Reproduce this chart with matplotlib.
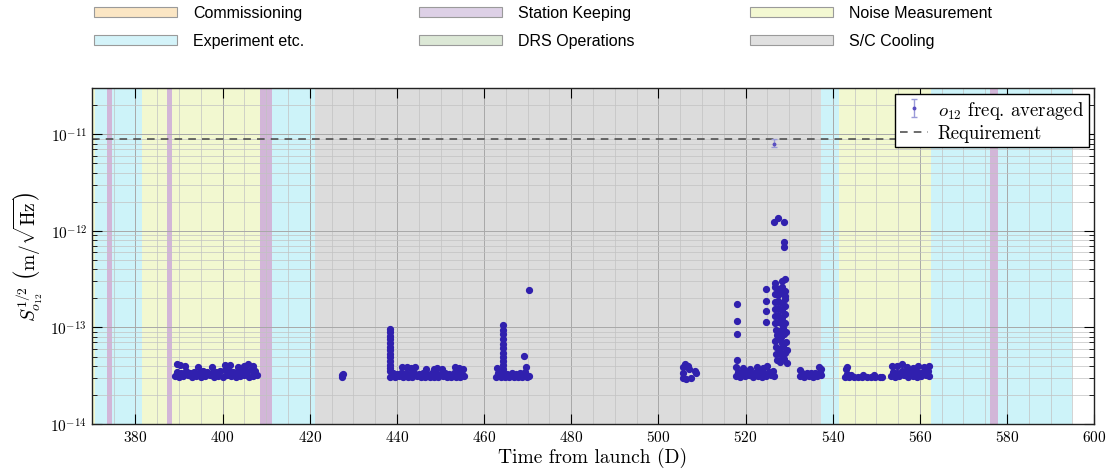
import numpy as np
import matplotlib
matplotlib.use("Agg")
import matplotlib.pyplot as plt
from matplotlib.patches import Patch
from matplotlib.ticker import MultipleLocator, LogLocator, NullFormatter

plt.rcParams['mathtext.fontset'] = 'cm'
plt.rcParams['font.family'] = 'serif'
plt.rcParams['font.serif'] = ['cmr10']
plt.rcParams['axes.formatter.use_mathtext'] = True
plt.rcParams['axes.unicode_minus'] = False

# mission phases (legend order is column-wise)
phase_names = ['Commissioning', 'Experiment etc.', 'Station Keeping',
               'DRS Operations', 'Noise Measurement', 'S/C Cooling']
phase_colors = {'Commissioning': '#fbe6c4', 'Experiment etc.': '#cdf3f9',
                'Station Keeping': '#d2b6d8', 'DRS Operations': '#d9e7d2',
                'Noise Measurement': '#f2f8d0', 'S/C Cooling': '#dcdcdc'}
legend_colors = {'Commissioning': '#fbe6c4', 'Experiment etc.': '#d4f3f9',
                 'Station Keeping': '#ddd0e6', 'DRS Operations': '#dce8d6',
                 'Noise Measurement': '#f3f8d2', 'S/C Cooling': '#e0e0e0'}

span_start = [370.0, 370.7, 373.4, 374.6, 381.5, 387.2, 388.4, 408.6, 411.4,
              421.3, 537.4, 541.5, 562.6, 576.0]
span_end = [370.7, 373.4, 374.6, 381.5, 387.2, 388.4, 408.6, 411.4, 421.3,
            537.4, 541.5, 562.6, 594.8, 577.9]
span_kind = ['Noise Measurement', 'Experiment etc.', 'Station Keeping', 'Experiment etc.',
             'Noise Measurement', 'Station Keeping', 'Noise Measurement', 'Station Keeping',
             'Experiment etc.', 'S/C Cooling', 'Experiment etc.', 'Noise Measurement',
             'Experiment etc.', 'Station Keeping']

requirement = 9.0e-12

# o12 frequency-averaged ASD, values in 1e-14 m/sqrt(Hz)
a_day = [389, 390, 391, 392, 393, 394, 395, 396, 397, 398, 399, 400, 401, 402, 403, 404, 405, 406, 407, 408,
         389.5, 390.5, 391.5, 392.5, 393.5, 394.5, 395.5, 396.5, 397.5, 398.5, 399.5, 400.5, 401.5, 402.5,
         403.5, 404.5, 405.5, 406.5, 407.5,
         389.6, 390.2, 391.4, 394.4, 397.5, 400.6, 401.6, 403.5, 404.8, 405.8, 407.0]
a_val = [3.15, 3.1, 3.15, 3.2, 3.1, 3.15, 3.1, 3.15, 3.2, 3.1, 3.15, 3.1, 3.2, 3.15, 3.1, 3.15, 3.2, 3.1, 3.15, 3.2,
         3.45, 3.4, 3.5, 3.4, 3.45, 3.4, 3.5, 3.45, 3.4, 3.45, 3.5, 3.6, 3.5, 3.45,
         3.5, 3.6, 3.5, 3.6, 3.5,
         4.2, 4.1, 4.0, 3.9, 3.9, 4.1, 4.1, 3.9, 4.0, 4.2, 4.0]

b_day = [427.3, 427.6, 427.4]
b_val = [3.1, 3.3, 3.2]

c_day = [438.3, 438.3, 438.3, 438.3, 438.3, 438.3, 438.3, 438.3, 438.3, 438.3, 438.3, 438.3, 438.3,
         438.5, 439.5, 440.5, 441.5, 442.5, 443.5, 444.5, 445.5, 446.5, 447.5, 448.5, 449.5,
         450.5, 451.5, 452.5, 453.5, 454.5, 455.5,
         439, 440, 441, 442, 443, 444, 445, 446, 447, 448, 449, 450, 451, 452, 453, 454, 455,
         441.2, 442.2, 443.2, 444.2, 446.6, 448.5, 449.3, 450.3, 453.3, 454.3, 455.2]
c_val = [3.5, 3.8, 4.1, 4.5, 4.9, 5.3, 5.8, 6.3, 6.9, 7.5, 8.2, 8.9, 9.6,
         3.1, 3.1, 3.15, 3.1, 3.05, 3.1, 3.15, 3.1, 3.1, 3.05, 3.1, 3.1,
         3.15, 3.1, 3.05, 3.1, 3.1, 3.15,
         3.35, 3.3, 3.4, 3.35, 3.3, 3.35, 3.3, 3.35, 3.3, 3.35, 3.4, 3.3, 3.35, 3.3, 3.4, 3.35, 3.3,
         3.9, 3.85, 3.8, 3.85, 3.7, 3.75, 3.8, 3.7, 3.85, 3.8, 3.75]

d_day = [464.4, 464.4, 464.4, 464.4, 464.4, 464.4, 464.4, 464.4, 464.4, 464.4, 464.4,
         462.8, 463.8, 464.8, 465.8, 466.8, 467.8, 468.8, 469.8, 470.3,
         463.3, 464.3, 465.3, 466.3, 467.3, 468.3, 469.3,
         463.0, 469.6, 469.1, 470.2]
d_val = [3.7, 4.1, 4.5, 5.0, 5.5, 6.1, 6.8, 7.6, 8.5, 9.5, 10.5,
         3.1, 3.1, 3.05, 3.1, 3.1, 3.05, 3.1, 3.1, 3.15,
         3.35, 3.4, 3.3, 3.35, 3.3, 3.4, 3.45,
         3.8, 3.9, 5.1, 24.3]

e_day = [505.6, 505.6, 505.7, 506.2, 506.8, 507.0, 506.3, 507.4, 508.3, 508.6]
e_val = [3.0, 3.4, 3.9, 4.2, 4.0, 3.7, 2.95, 3.0, 3.5, 3.35]

f_day = [517.8, 518.8, 519.8, 520.8, 521.8, 522.8, 523.8, 524.8, 525.8, 526.5,
         518.3, 519.3, 520.3, 521.3, 522.3, 523.3, 524.3, 525.3, 526.3,
         517.8, 518.0, 519.4, 521.0, 522.6, 524.0, 525.0,
         518.0, 518.0, 518.0, 524.7, 524.7, 524.8, 524.8,
         526.7, 527.5, 528.3, 529.1, 526.7, 527.5, 528.3, 529.1, 526.7, 527.5, 528.3, 529.1,
         526.7, 527.5, 528.3, 529.1, 526.7, 527.5, 528.3, 529.1, 526.7, 527.5, 528.3, 529.1,
         526.9, 527.7, 528.5, 529.3, 527.1, 528.1, 528.9,
         526.8, 527.6, 528.4, 529.2, 527.0, 527.9, 528.7, 529.4, 526.9, 527.6, 528.4, 529.1,
         527.2, 528.0, 528.8, 529.5,
         529.1, 526.8, 528.4,
         526.6, 527.5, 528.9, 528.9, 528.9]
f_val = [3.15, 3.1, 3.15, 3.2, 3.1, 3.15, 3.1, 3.15, 3.2, 3.15,
         3.45, 3.4, 3.5, 3.4, 3.45, 3.5, 3.4, 3.45, 3.5,
         3.9, 4.6, 3.8, 3.7, 3.9, 3.8, 4.0,
         17.4, 11.7, 8.5, 24.8, 18.7, 14.7, 11.3,
         26.0, 25.0, 26.5, 24.0, 22.0, 21.5, 22.5, 21.0, 18.5, 19.0, 18.0, 19.5,
         15.5, 16.0, 15.0, 16.5, 13.0, 13.5, 12.5, 13.8, 11.0, 11.5, 10.8, 11.2,
         9.5, 9.2, 9.8, 9.0, 8.4, 8.0, 8.6,
         7.2, 7.5, 6.9, 7.0, 6.2, 6.0, 6.4, 5.9, 5.3, 5.5, 5.1, 5.4,
         4.6, 4.4, 4.7, 4.3,
         31.5, 29.0, 30.0,
         124.0, 136.0, 124.0, 76.0, 68.0]

g_day = [532.5, 533.5, 534.5, 535.5, 536.5, 537.3, 533, 534, 535, 536, 537, 532.4, 536.9, 537.3]
g_val = [3.15, 3.1, 3.15, 3.1, 3.15, 3.2, 3.4, 3.35, 3.4, 3.35, 3.45, 3.6, 3.9, 3.7]

h_day = [542.8, 543.8, 544.8, 545.8, 546.8, 547.8, 548.8, 549.8, 550.8, 551.4,
         543.3, 544.3, 547.0, 549.5, 543.0, 543.3]
h_val = [3.1, 3.1, 3.05, 3.1, 3.1, 3.05, 3.1, 3.1, 3.05, 3.1,
         3.3, 3.25, 3.2, 3.25, 3.7, 3.9]

i_day = [553.3, 554.3, 555.3, 556.3, 557.3, 558.3, 559.3, 560.3, 561.3, 562.0,
         553.8, 554.8, 555.8, 556.8, 557.8, 558.8, 559.8, 560.8, 561.8,
         553.5, 554.8, 556.0, 557.0, 558.3, 559.6, 561.0, 562.0]
i_val = [3.15, 3.1, 3.15, 3.2, 3.1, 3.15, 3.1, 3.15, 3.2, 3.15,
         3.45, 3.4, 3.5, 3.4, 3.45, 3.5, 3.4, 3.45, 3.5,
         4.0, 4.0, 4.2, 3.9, 3.8, 4.0, 3.9, 4.0]

# isolated point close to requirement, with visible error bar
top_day = [526.6]
top_val = [790.0]
top_err_lo = [60.0]
top_err_hi = [95.0]

day = np.concatenate([a_day, b_day, c_day, d_day, e_day, f_day, g_day, h_day, i_day])
val = np.concatenate([a_val, b_val, c_val, d_val, e_val, f_val, g_val, h_val, i_val]) * 1e-14

fig = plt.figure(figsize=(11.2, 4.77), dpi=100)
ax = fig.add_axes([0.082, 0.109, 0.895, 0.704])

for s, e, k in zip(span_start, span_end, span_kind):
    ax.axvspan(s, e, color=phase_colors[k], lw=0, zorder=0)

ax.errorbar(day, val, fmt='o', ms=4.2, color='#3020ae', mec='#3020ae', zorder=3)
eb = ax.errorbar(top_day, np.array(top_val) * 1e-14,
                 yerr=[np.array(top_err_lo) * 1e-14, np.array(top_err_hi) * 1e-14],
                 fmt='o', ms=1.8, color='#5a4fc0', ecolor='#9a9ad8', elinewidth=1,
                 capsize=2, zorder=3, label=r'$o_{12}$ freq. averaged')
req = ax.axhline(requirement, color='#444444', ls=(0, (5, 4)), lw=1.1, zorder=2,
                 label='Requirement')

ax.set_yscale('log')
ax.set_xlim(370, 600)
ax.set_ylim(1e-14, 3e-11)
ax.xaxis.set_major_locator(MultipleLocator(20))
ax.xaxis.set_minor_locator(MultipleLocator(5))
ax.yaxis.set_minor_locator(LogLocator(base=10, subs=np.arange(2, 10)))
ax.yaxis.set_minor_formatter(NullFormatter())
ax.grid(which='major', color='#a8a8a8', lw=0.7, zorder=1)
ax.grid(which='minor', color='#c2c2c2', lw=0.5, zorder=1)
ax.tick_params(which='both', direction='in', top=True, right=True, labelsize=11)
ax.tick_params(which='major', length=7)
ax.tick_params(axis='y', which='minor', length=3.5)
ax.tick_params(axis='x', which='minor', length=0)
for sp in ax.spines.values():
    sp.set_linewidth(1.0)
    sp.set_color('#222222')

ax.set_xlabel('Time from launch (D)', fontsize=14, labelpad=2)
ax.set_ylabel(r'$S^{1/2}_{o_{12}}\ \left(\mathrm{m}/\sqrt{\mathrm{Hz}}\right)$', fontsize=14, labelpad=4)

leg = ax.legend(handles=[eb, req], loc='upper right', fontsize=13.5, frameon=True,
                fancybox=False, edgecolor='black', framealpha=1, borderpad=0.25,
                handlelength=1.5, handletextpad=0.5, borderaxespad=0.3, labelspacing=0.2)
leg.get_frame().set_linewidth(1.0)

phase_handles = [Patch(facecolor=legend_colors[n], edgecolor='#9a9a9a', lw=0.8) for n in phase_names]
fig.legend(phase_handles, phase_names, ncol=3, loc='upper left', bbox_to_anchor=(0.078, 1.0),
           frameon=False, prop={'family': 'Liberation Sans', 'size': 11.5},
           handlelength=5.2, handleheight=0.6, handletextpad=1.0, columnspacing=7.2,
           labelspacing=0.82, borderaxespad=0.0)

fig.savefig('out.png', dpi=100)
